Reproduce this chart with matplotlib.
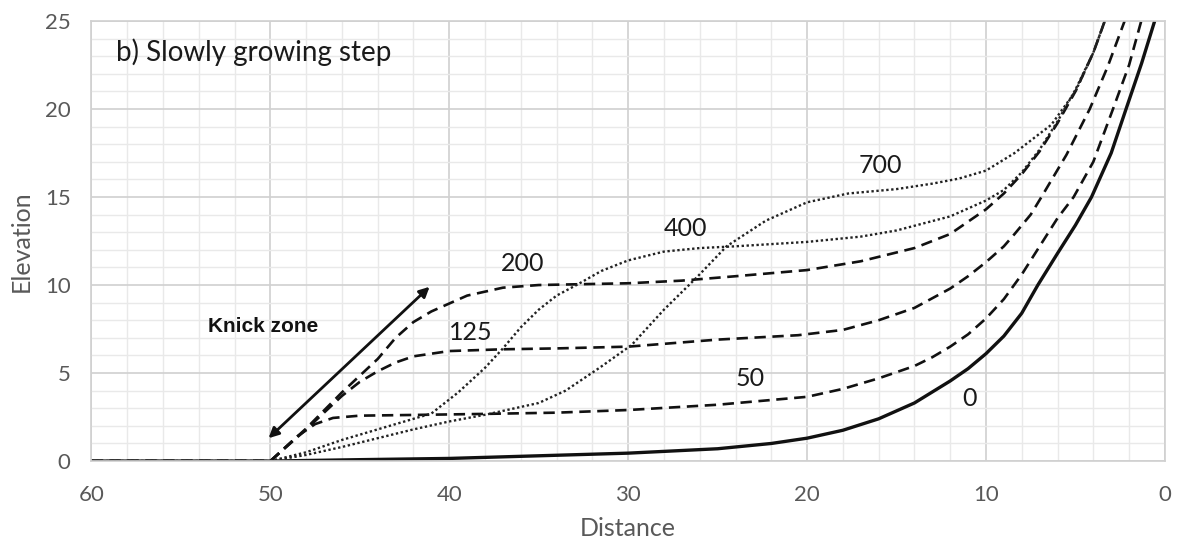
import matplotlib
matplotlib.use("Agg")
import matplotlib.pyplot as plt
from matplotlib.ticker import MultipleLocator

# profiles (distance, elevation), one per time step
x_t0 = [60, 50, 45, 40, 35, 30, 25, 22, 20, 18, 16, 14, 12, 11, 10, 9, 8, 7.1, 6, 5, 4.1, 3, 2.17, 1.3, 0.57]
y_t0 = [0, 0, 0.08, 0.15, 0.3, 0.45, 0.7, 1.0, 1.3, 1.75, 2.4, 3.3, 4.55, 5.25, 6.1, 7.1, 8.4, 10, 11.8, 13.4, 15, 17.5, 20, 22.6, 25]

x_t50 = [60, 50, 48.5, 47.5, 46.5, 45, 42, 38, 34, 30, 25, 20, 18, 16, 14, 13, 12, 11, 10, 9, 8, 7, 6, 5.1, 4, 2.9, 2, 1.32]
y_t50 = [0, 0, 1.4, 2.1, 2.45, 2.58, 2.62, 2.68, 2.75, 2.9, 3.2, 3.65, 4.1, 4.7, 5.4, 5.9, 6.5, 7.2, 8.1, 9.2, 10.6, 12.2, 13.8, 15, 17, 20, 22.5, 25]

x_t125 = [60, 50, 48, 46, 45, 44, 43, 42, 40, 37, 34, 30, 25, 20.5, 18, 16, 14, 12, 11, 10, 9, 8.4, 7.5, 6.9, 5.5, 4.2, 3.2, 2.25]
y_t125 = [0, 0, 1.8, 3.7, 4.5, 5.1, 5.6, 5.95, 6.25, 6.35, 6.4, 6.5, 6.9, 7.15, 7.45, 8.0, 8.7, 9.8, 10.5, 11.3, 12.2, 12.9, 14.0, 15, 17.4, 20, 22.4, 25]

x_t200 = [60, 50, 48, 46, 45, 44, 43, 42, 41, 40, 39, 37, 35, 30, 27, 24, 20, 17, 14, 12, 10, 9, 8, 7, 6, 5, 4, 3.36]
y_t200 = [0, 0, 1.85, 3.9, 4.85, 5.8, 7.0, 7.9, 8.5, 8.95, 9.4, 9.85, 10.0, 10.1, 10.25, 10.5, 10.85, 11.35, 12.1, 12.9, 14.3, 15.2, 16.3, 17.6, 19.2, 21, 23.2, 25]

x_t400 = [60, 50, 48, 46, 44, 42, 41, 39.5, 38, 37, 36, 35, 34, 32.8, 31.5, 30, 28, 26, 24, 20, 17, 15, 12, 10, 9, 8, 7, 6, 5, 4, 3.36]
y_t400 = [0, 0, 0.5, 1.2, 1.8, 2.4, 2.7, 3.9, 5.3, 6.4, 7.6, 8.6, 9.4, 10.05, 10.8, 11.4, 11.9, 12.1, 12.2, 12.45, 12.75, 13.1, 13.9, 14.8, 15.4, 16.4, 17.7, 19.3, 21.1, 23.2, 25]

x_t700 = [60, 50, 48, 46, 44, 42, 40, 37.9, 35, 33.5, 31.6, 29.8, 28, 26.2, 24.5, 22.3, 20, 17.7, 15, 13, 11.5, 10, 8.4, 7, 6.35, 5, 4, 3.36]
y_t700 = [0, 0, 0.35, 0.8, 1.3, 1.8, 2.25, 2.65, 3.3, 4.0, 5.3, 6.6, 8.6, 10.4, 12.2, 13.66, 14.7, 15.2, 15.45, 15.76, 16.05, 16.5, 17.5, 18.6, 19.1, 21, 23.2, 25]

labels = ["0", "50", "125", "200", "400", "700"]
label_x = [10.9, 23.2, 38.8, 35.9, 26.8, 15.9]
label_y = [3.55, 4.7, 7.3, 11.2, 13.2, 16.8]

ink = "#111111"
grey = "#595959"
fig = plt.figure(figsize=(11.77, 5.45), dpi=100)
ax = fig.add_axes([0.0777, 0.154, 0.912, 0.8075])

ax.plot(x_t0, y_t0, color=ink, lw=2.4, solid_capstyle="butt")
for xs, ys in [(x_t50, y_t50), (x_t125, y_t125), (x_t200, y_t200)]:
    ax.plot(xs, ys, color=ink, lw=1.9, dashes=(4.3, 2.5))
for xs, ys in [(x_t400, y_t400), (x_t700, y_t700)]:
    ax.plot(xs, ys, color="#222222", lw=1.7, dashes=(1, 1.1))

for t, lx, ly in zip(labels, label_x, label_y):
    ax.text(lx, ly, t, ha="center", va="center", fontsize=18, family="Lato", color="#1a1a1a")

ax.annotate("", xy=(50.1, 1.3), xytext=(41.1, 9.9),
            arrowprops=dict(arrowstyle="<|-|>", color=ink, lw=2, mutation_scale=15, shrinkA=0, shrinkB=0))
ax.text(53.5, 7.65, "Knick zone", ha="left", va="center", fontsize=15,
        family="Liberation Sans", weight="bold", color=ink)
ax.text(58.6, 23.2, "b) Slowly growing step", ha="left", va="center", fontsize=20,
        family="Lato", color="#1a1a1a")

ax.set_xlim(60, 0)
ax.set_ylim(0, 25)
ax.xaxis.set_major_locator(MultipleLocator(10))
ax.xaxis.set_minor_locator(MultipleLocator(2))
ax.yaxis.set_major_locator(MultipleLocator(5))
ax.yaxis.set_minor_locator(MultipleLocator(1))
ax.grid(which="major", color="#d0d0d0", lw=1.2)
ax.grid(which="minor", color="#e9e9e9", lw=1.0)
ax.set_axisbelow(True)
ax.tick_params(which="both", length=0, labelsize=16, labelcolor=grey)
ax.tick_params(axis="x", pad=17)
ax.tick_params(axis="y", pad=15)
for lab in ax.get_xticklabels() + ax.get_yticklabels():
    lab.set_family("Lato")
for s in ax.spines.values():
    s.set_color("#d0d0d0")
    s.set_linewidth(1.2)

ax.set_xlabel("Distance", fontsize=18, color=grey, family="Lato", labelpad=9)
ax.set_ylabel("Elevation", fontsize=18, color=grey, family="Lato", labelpad=9)

fig.savefig("out.png", dpi=100)
